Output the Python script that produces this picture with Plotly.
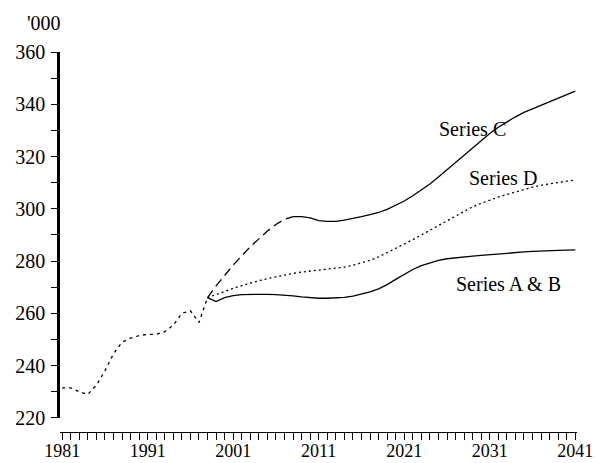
import plotly.graph_objects as go

# historical estimates, 1981-1998
hist_years = list(range(1981, 1999))
hist_values = [231.5, 231.5, 230.0, 229.0, 232.5, 238.0, 244.5, 249.0, 250.5,
               251.5, 252.0, 252.0, 253.0, 255.5, 260.0, 261.0, 256.5, 266.0]

# projections, 1998-2041
proj_years = list(range(1998, 2042))
series_c = [266.0, 270.5, 274.5, 278.5, 282.0, 285.5, 288.5, 291.5, 294.0, 296.0,
            297.0, 297.0, 296.5, 295.5, 295.2, 295.2, 295.7, 296.3, 297.0, 297.8,
            298.6, 299.8, 301.3, 303.0, 305.0, 307.2, 309.5, 312.2, 315.0, 317.8,
            320.6, 323.4, 326.2, 328.8, 331.2, 333.3, 335.2, 336.9, 338.3, 339.7,
            341.0, 342.3, 343.6, 345.0]
series_d = [266.0, 267.3, 268.4, 269.6, 270.6, 271.6, 272.5, 273.3, 274.0, 274.7,
            275.3, 275.8, 276.2, 276.5, 276.8, 277.2, 277.7, 278.4, 279.3, 280.3,
            281.6, 283.2, 284.8, 286.5, 288.2, 290.0, 291.8, 293.7, 295.6, 297.5,
            299.3, 300.8, 302.1, 303.4, 304.5, 305.5, 306.5, 307.5, 308.3, 309.0,
            309.6, 310.1, 310.6, 311.0]
series_ab = [266.0, 264.5, 266.0, 266.8, 267.2, 267.3, 267.3, 267.3, 267.2, 267.0,
             266.7, 266.3, 266.0, 265.8, 265.8, 265.9, 266.1, 266.6, 267.3, 268.2,
             269.4, 271.0, 273.0, 275.0, 276.8, 278.3, 279.4, 280.3, 280.9, 281.3,
             281.6, 281.9, 282.2, 282.5, 282.8, 283.1, 283.3, 283.5, 283.7, 283.9,
             284.0, 284.1, 284.2, 284.3]

x_ticks = [1981, 1991, 2001, 2011, 2021, 2031, 2041]
y_ticks = [220, 240, 260, 280, 300, 320, 340, 360]

SERIF = "Liberation Serif"
split = proj_years.index(2008)

fig = go.Figure()
line = dict(color="black", width=1.3)

fig.add_trace(go.Scatter(x=hist_years, y=hist_values, mode="lines",
                         line=dict(line, dash="3px,4px")))
fig.add_trace(go.Scatter(x=proj_years[:split + 1], y=series_c[:split + 1], mode="lines",
                         line=dict(line, dash="9px,5px")))
fig.add_trace(go.Scatter(x=proj_years[split:], y=series_c[split:], mode="lines",
                         line=line))
fig.add_trace(go.Scatter(x=proj_years, y=series_d, mode="lines",
                         line=dict(line, dash="2px,3px")))
fig.add_trace(go.Scatter(x=proj_years, y=series_ab, mode="lines", line=line))

for text, x, y in [("Series C", 2029.0, 330.5),
                   ("Series D", 2032.5, 311.7),
                   ("Series A &amp; B", 2033.2, 271.2)]:
    fig.add_annotation(x=x, y=y, text=text, showarrow=False,
                       font=dict(family=SERIF, size=20, color="black"))

fig.add_annotation(x=-0.031, y=1.076, xref="paper", yref="paper", text="'000",
                   xanchor="center", yanchor="middle", showarrow=False,
                   font=dict(family=SERIF, size=20, color="black"))

fig.update_layout(
    width=595, height=463,
    margin=dict(l=60, r=18, t=52, b=31, autoexpand=False),
    paper_bgcolor="white", plot_bgcolor="white",
    showlegend=False,
    font=dict(family=SERIF, size=20, color="black"),
    xaxis=dict(range=[1980.75, 2041.2], anchor="free", position=0,
               automargin=False,
               tickvals=x_ticks, tickfont=dict(family=SERIF, size=18, color="black"),
               ticklabeloverflow="allow", ticklabelstandoff=-5,
               ticks="outside", ticklen=7, tickwidth=1,
               tickcolor="black", showline=True, linecolor="black", linewidth=1,
               showgrid=False, zeroline=False,
               minor=dict(dtick=1, tick0=1981, ticks="outside", ticklen=7,
                          tickcolor="black", showgrid=False)),
    yaxis=dict(range=[220, 360], domain=[0.037, 1], tickvals=y_ticks,
               automargin=False,
               tickfont=dict(family=SERIF, size=20, color="black"),
               ticks="outside", ticklen=5, tickcolor="black", ticklabelstandoff=3,
               showline=True, linecolor="black", linewidth=2.5,
               showgrid=False, zeroline=False,
               minor=dict(dtick=10, tick0=220, ticks="outside", ticklen=6,
                          tickcolor="black", showgrid=False)),
)

# drop the page's default body margin so the figure fills the window exactly
fig.write_html("out.html", config={"displayModeBar": False},
               post_script="document.body.style.margin='0';"
                           "document.body.style.overflow='hidden';")
